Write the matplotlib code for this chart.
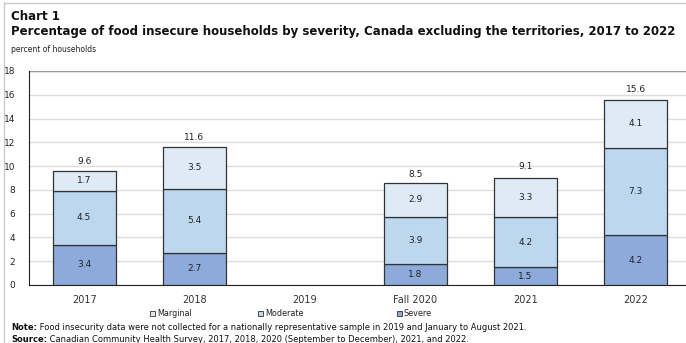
import numpy as np
import matplotlib.pyplot as plt
from matplotlib.patches import Rectangle

categories = ["2017", "2018", "2019", "Fall 2020", "2021", "2022"]
severe = [3.4, 2.7, np.nan, 1.8, 1.5, 4.2]
moderate = [4.5, 5.4, np.nan, 3.9, 4.2, 7.3]
marginal = [1.7, 3.5, np.nan, 2.9, 3.3, 4.1]
totals = [9.6, 11.6, np.nan, 8.5, 9.1, 15.6]
series_names = ["Marginal", "Moderate", "Severe"]

c_sev = "#8eaadb"
c_mod = "#bdd7ee"
c_mar = "#deeaf6"
edge = "#333333"
txt = "#222222"

W, H = 686, 343
fig = plt.figure(figsize=(W / 100, H / 100), dpi=100)
fig.patch.set_facecolor("white")

# axes box in pixel terms (right edge runs off the image like the original)
left, right, top, bottom = 29, 691, 71, 285
ax = fig.add_axes([left / W, 1 - bottom / H, (right - left) / W, (bottom - top) / H])

x = np.arange(len(categories))
sev = np.array(severe)
mod = np.array(moderate)
mar = np.array(marginal)
bw = 0.57
ax.bar(x, sev, bw, color=c_sev, edgecolor=edge, linewidth=0.9, zorder=3)
ax.bar(x, mod, bw, bottom=sev, color=c_mod, edgecolor=edge, linewidth=0.9, zorder=3)
ax.bar(x, mar, bw, bottom=sev + mod, color=c_mar, edgecolor=edge, linewidth=0.9, zorder=3)

for i in range(len(categories)):
    if np.isnan(totals[i]):
        continue
    ax.text(x[i], sev[i] / 2, f"{sev[i]:.1f}", ha="center", va="center", fontsize=6.5, color=txt, zorder=4)
    ax.text(x[i], sev[i] + mod[i] / 2, f"{mod[i]:.1f}", ha="center", va="center", fontsize=6.5, color=txt, zorder=4)
    ax.text(x[i], sev[i] + mod[i] + mar[i] / 2, f"{mar[i]:.1f}", ha="center", va="center", fontsize=6.5, color=txt, zorder=4)
    ax.text(x[i], totals[i] + 0.45, f"{totals[i]:.1f}", ha="center", va="bottom", fontsize=6.5, color=txt, zorder=4)

ax.set_xlim(-0.5, len(categories) - 0.5)
ax.set_ylim(0, 18)
ax.set_yticks(np.arange(0, 19, 2))
ax.yaxis.grid(True, color="#dddddd", linewidth=1.0, zorder=0)
ax.set_axisbelow(True)
for s in ["top", "right"]:
    ax.spines[s].set_visible(False)
ax.spines["left"].set_color("#222222")
ax.spines["bottom"].set_color("#222222")
ax.axhline(18, color="#999999", linewidth=1.0, zorder=1)
ax.tick_params(axis="y", length=0, labelsize=6.5, colors="#222222", pad=10)
ax.tick_params(axis="x", length=0, labelsize=7, colors="#333333", pad=7)
ax.set_xticks(x)
ax.set_xticklabels(categories)

# titles
fig.text(11 / W, 1 - 17 / H, "Chart 1", fontsize=8.5, fontweight="bold", va="center", color="#111111")
fig.text(11 / W, 1 - 32 / H,
         "Percentage of food insecure households by severity, Canada excluding the territories, 2017 to 2022",
         fontsize=8.5, fontweight="bold", va="center", color="#111111")
fig.text(11 / W, 1 - 50 / H, "percent of households", fontsize=5.5, va="center", color="#222222")

# legend drawn by hand to keep the uneven spacing
leg_x = [150, 258, 397]
leg_c = [c_mar, c_mod, c_sev]
for lx, lc, name in zip(leg_x, leg_c, series_names):
    fig.patches.append(Rectangle((lx / W, 1 - 316 / H), 5 / W, 5 / H, facecolor=lc,
                                 edgecolor="#333333", linewidth=0.6, transform=fig.transFigure))
    fig.text((lx + 7) / W, 1 - 313.5 / H, name, fontsize=5.8, va="center", color="#222222")

# notes: bold lead word followed by plain text
for yy, head, body in [(328, "Note:", " Food insecurity data were not collected for a nationally representative sample in 2019 and January to August 2021."),
                       (339, "Source:", " Canadian Community Health Survey, 2017, 2018, 2020 (September to December), 2021, and 2022.")]:
    t = fig.text(11 / W, 1 - yy / H, head, fontsize=6, fontweight="bold", va="center", color="#111111")
    fig.canvas.draw()
    fig.text(t.get_window_extent().x1 / W, 1 - yy / H, body, fontsize=6, va="center", color="#111111")

# thin frame at left/top like the screenshot
fig.add_artist(plt.Line2D([4 / W, 4 / W], [0, 1 - 3 / H], color="#cccccc", linewidth=1, transform=fig.transFigure))
fig.add_artist(plt.Line2D([4 / W, 1], [1 - 3 / H, 1 - 3 / H], color="#cccccc", linewidth=1, transform=fig.transFigure))

fig.savefig("out.png", dpi=100)
